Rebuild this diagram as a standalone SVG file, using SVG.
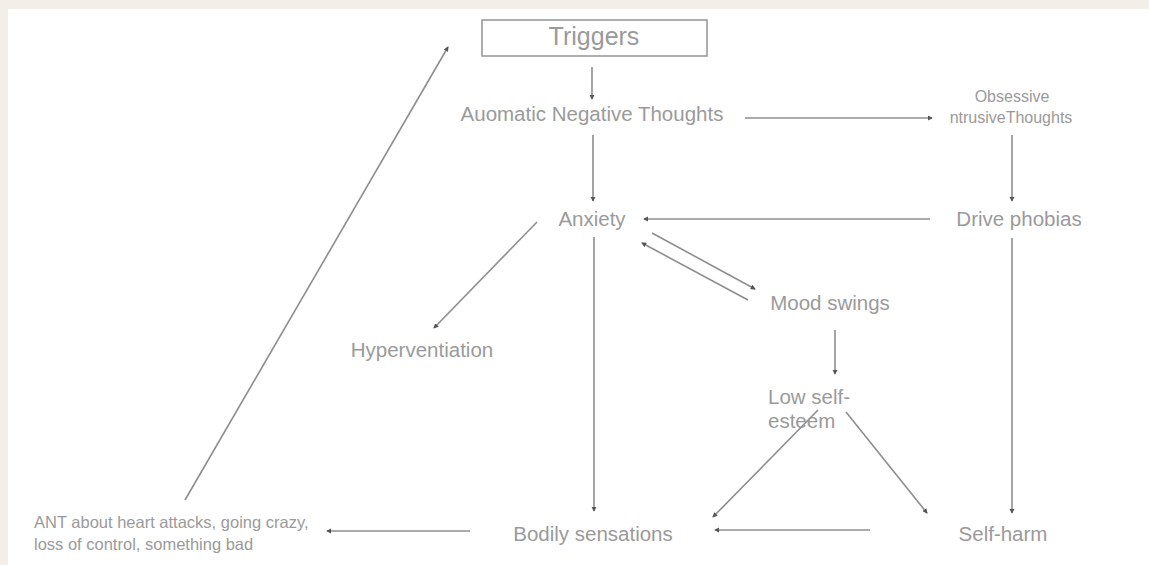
<svg xmlns="http://www.w3.org/2000/svg" width="1149" height="565" viewBox="0 0 1149 565">
<defs>
<style>
.t{font-family:"Liberation Sans",Arial,sans-serif;fill:#9a9a9a;font-size:20.5px;text-anchor:middle}
.s{font-size:16px}
.a{font-size:16.5px;text-anchor:start}
.c{stroke:#8e8e8e;stroke-width:1.6;fill:none;marker-end:url(#ah)}
</style>
<marker id="ah" viewBox="0 0 6 6" refX="5" refY="3" markerWidth="3.2" markerHeight="3.2" orient="auto" markerUnits="strokeWidth">
<path d="M0,0 L6,3 L0,6 Z" fill="#555"/>
</marker>
</defs>
<rect x="0" y="0" width="1149" height="565" fill="#f3efe8"/>
<rect x="8" y="9" width="1141" height="556" fill="#ffffff"/>
<g id="connectors">
<line class="c" x1="592" y1="67" x2="592" y2="99"/>
<line class="c" x1="745" y1="118" x2="932" y2="118"/>
<line class="c" x1="1012" y1="135" x2="1012" y2="201"/>
<line class="c" x1="930" y1="219" x2="644" y2="219"/>
<line class="c" x1="593" y1="135" x2="593" y2="201"/>
<line class="c" x1="537" y1="222" x2="434" y2="328"/>
<line class="c" x1="594" y1="237" x2="594" y2="511"/>
<line class="c" x1="652" y1="233" x2="755" y2="289"/>
<line class="c" x1="748" y1="300" x2="642" y2="243"/>
<line class="c" x1="835" y1="330" x2="835" y2="374"/>
<line class="c" x1="818" y1="410" x2="713" y2="517"/>
<line class="c" x1="846" y1="412" x2="927" y2="513"/>
<line class="c" x1="1012" y1="238" x2="1012" y2="513"/>
<line class="c" x1="870" y1="530" x2="715" y2="530"/>
<line class="c" x1="470" y1="531" x2="327" y2="531"/>
<line class="c" x1="185" y1="500" x2="448" y2="47"/>
</g>
<g id="triggers">
<rect x="482" y="20" width="225" height="36" fill="#fff" stroke="#9a9a9a" stroke-width="1.6"/>
<text class="t" x="594" y="45" style="font-size:25px">Triggers</text>
</g>
<g id="ant"><text class="t" x="592" y="121">Auomatic Negative Thoughts</text></g>
<g id="obsessive">
<text class="t s" x="1012" y="102">Obsessive</text>
<text class="t s" x="1011" y="123">ntrusiveThoughts</text>
</g>
<g id="drive-phobias"><text class="t" x="1019" y="226">Drive phobias</text></g>
<g id="anxiety"><text class="t" x="592" y="226">Anxiety</text></g>
<g id="hyperventilation"><text class="t" x="422" y="357">Hyperventiation</text></g>
<g id="mood-swings"><text class="t" x="830" y="310">Mood swings</text></g>
<g id="low-self-esteem">
<text class="t" x="768" y="404" style="text-anchor:start">Low self-</text>
<text class="t" x="768" y="428" style="text-anchor:start">esteem</text>
</g>
<g id="bodily-sensations"><text class="t" x="593" y="541">Bodily sensations</text></g>
<g id="self-harm"><text class="t" x="1003" y="541">Self-harm</text></g>
<g id="ant-about">
<text class="t a" x="34" y="528">ANT about heart attacks, going crazy,</text>
<text class="t a" x="34" y="550">loss of control, something bad</text>
</g>
</svg>
